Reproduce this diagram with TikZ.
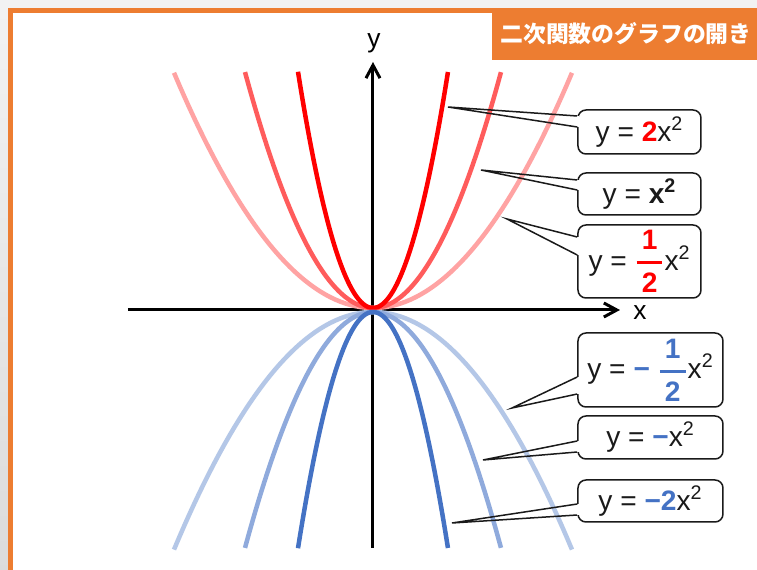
\documentclass[tikz,border=0pt]{standalone}
\usepackage{amsmath}
\usepackage{fontspec}
\setmainfont{Liberation Sans}
\newfontfamily\jpfont{Noto Sans CJK JP}
\usepackage{tikz}
\usetikzlibrary{
  arrows.meta,
  calc
}
\usepackage{xcolor}
\definecolor{TitleOrange}{HTML}{ED7D31}
\definecolor{OpenRed}{HTML}{FF0000}
\definecolor{OpenRedMid}{HTML}{FF5C5C}
\definecolor{OpenRedPale}{HTML}{FFA3A3}
\definecolor{OpenBlue}{HTML}{4472C4}
\definecolor{OpenBlueMid}{HTML}{8FAADC}
\definecolor{OpenBluePale}{HTML}{B4C7E7}
\definecolor{Ink}{HTML}{1A1A1A}
\newcommand{\halfof}[1]{{\color{#1}$\genfrac{}{}{1.7pt}{0}{\,\textbf{1}\,}{\,\textbf{2}\,}$}}

\begin{document}
\begin{tikzpicture}[
  font=\fontsize{16}{19}\selectfont,
  >={Straight Barb[length=2.6mm,width=2.8mm]},
  axis/.style={->,draw=black,line width=0.06cm},
  curve/.style={line width=0.09cm},
  callout/.style={
    draw=Ink,
    fill=white,
    rounded corners=0.16cm,
    line width=0.03cm,
    minimum width=2.46cm,
    inner sep=0pt,
    text=Ink
  },
  wider/.style={callout,minimum width=2.9cm},
  pointer/.style={draw=Ink,line width=0.03cm},
  tag/.style={font=\fontsize{15}{18}\selectfont}
]

\useasboundingbox (-7.46,-5.2) rectangle (7.68,6.2);
\fill[top color=gray!10,bottom color=gray!28] (-7.46,-5.2) rectangle (7.68,6.2);
\draw[TitleOrange,line width=0.1cm,fill=white] (-7.25,-6) rectangle (8,5.99);

\fill[TitleOrange] (2.38,5.0) rectangle (8,6.04);
\node[anchor=west,text=white,font=\jpfont\bfseries\fontsize{13}{15}\selectfont,
  inner sep=0pt] (title) at (2.54,5.52) {二次関数のグラフの開き};

\coordinate (xfrom) at (-4.9,0);
\coordinate (xto) at (4.94,0);
\coordinate (yfrom) at (0,-4.76);
\coordinate (yto) at (0,4.96);
\draw[axis] (xfrom) -- (xto);
\draw[axis] (yfrom) -- (yto);
\node[tag] (xlabel) at (5.34,-0.06) {x};
\node[tag] (ylabel) at (0.02,5.34) {y};

\draw[curve,OpenRedPale] plot[domain=-3.98:3.98,samples=80] (\x,{0.297*\x*\x+0.04});
\draw[curve,OpenRedMid] plot[domain=-2.56:2.56,samples=80] (\x,{0.72*\x*\x+0.04});
\draw[curve,OpenRed] plot[domain=-1.5:1.5,samples=80] (\x,{2.1*\x*\x+0.04});
\draw[curve,OpenBluePale] plot[domain=-3.98:3.98,samples=80] (\x,{-0.30*\x*\x-0.04});
\draw[curve,OpenBlueMid] plot[domain=-2.56:2.56,samples=80] (\x,{-0.72*\x*\x-0.04});
\draw[curve,OpenBlue] plot[domain=-1.5:1.5,samples=80] (\x,{-2.1*\x*\x-0.04});

\node[callout,minimum height=0.88cm] (twice) at (5.33,3.56)
  {y = \textcolor{OpenRed}{\textbf{2}}x\textsuperscript{2}};
\node[callout,minimum height=0.84cm] (unit) at (5.33,2.32)
  {y = \textbf{x\textsuperscript{2}}};
\node[callout,minimum height=1.46cm] (half) at (5.33,0.97)
  {y = \halfof{OpenRed}x\textsuperscript{2}};
\node[wider,minimum height=1.48cm] (neghalf) at (5.55,-1.2)
  {y = \textcolor{OpenBlue}{\textbf{−}} \halfof{OpenBlue}x\textsuperscript{2}};
\node[wider,minimum height=0.86cm] (negunit) at (5.55,-2.55)
  {y = \textcolor{OpenBlue}{\textbf{−}}x\textsuperscript{2}};
\node[wider,minimum height=0.84cm] (negtwice) at (5.55,-3.82)
  {y = \textcolor{OpenBlue}{\textbf{−2}}x\textsuperscript{2}};

\coordinate (tipTwice) at (1.5,4.06);
\coordinate (tipUnit) at (2.16,2.8);
\coordinate (tipHalf) at (2.68,1.82);
\coordinate (tipNegHalf) at (2.78,-1.96);
\coordinate (tipNegUnit) at (2.2,-3.0);
\coordinate (tipNegTwice) at (1.58,-4.26);

% gaps in the box edge where the pointers enter
\fill[white] ([shift={(-0.03,0.32)}]twice.west) rectangle ([shift={(0.03,0.10)}]twice.west);
\fill[white] ([shift={(-0.03,0.28)}]unit.west) rectangle ([shift={(0.03,0.08)}]unit.west);
\fill[white] ([shift={(-0.03,0.49)}]half.west) rectangle ([shift={(0.03,0.13)}]half.west);
\fill[white] ([shift={(-0.03,-0.14)}]neghalf.west) rectangle ([shift={(0.03,-0.48)}]neghalf.west);
\fill[white] ([shift={(-0.03,-0.07)}]negunit.west) rectangle ([shift={(0.03,-0.29)}]negunit.west);
\fill[white] ([shift={(-0.03,-0.06)}]negtwice.west) rectangle ([shift={(0.03,-0.28)}]negtwice.west);

\draw[pointer] ([yshift=0.32cm]twice.west) -- (tipTwice) -- ([yshift=0.10cm]twice.west);
\draw[pointer] ([yshift=0.28cm]unit.west) -- (tipUnit) -- ([yshift=0.08cm]unit.west);
\draw[pointer] ([yshift=0.49cm]half.west) -- (tipHalf) -- ([yshift=0.13cm]half.west);
\draw[pointer] ([yshift=-0.14cm]neghalf.west) -- (tipNegHalf) -- ([yshift=-0.48cm]neghalf.west);
\draw[pointer] ([yshift=-0.07cm]negunit.west) -- (tipNegUnit) -- ([yshift=-0.29cm]negunit.west);
\draw[pointer] ([yshift=-0.06cm]negtwice.west) -- (tipNegTwice) -- ([yshift=-0.28cm]negtwice.west);
\end{tikzpicture}
\end{document}
